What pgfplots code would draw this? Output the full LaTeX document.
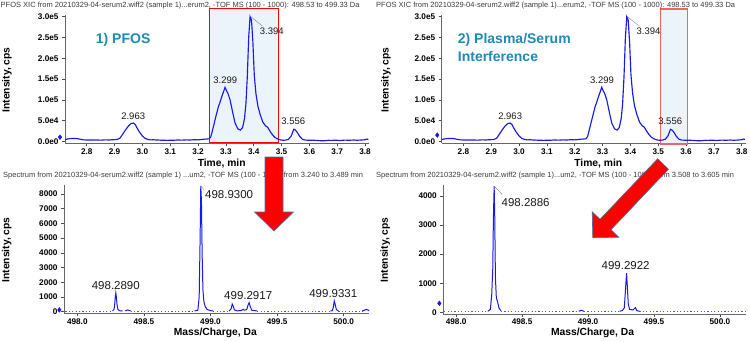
\documentclass[border=0pt]{standalone}
\usepackage{pgfplots}
\pgfplotsset{compat=1.18}
\usepackage{fontspec}
\setmainfont{Liberation Sans}
\definecolor{trace}{RGB}{25,25,235}
\definecolor{pfosblue}{RGB}{31,139,178}
\definecolor{boxfill}{RGB}{236,244,251}
\definecolor{arrowline}{RGB}{65,113,156}
\definecolor{titlegray}{RGB}{60,60,60}
\definecolor{boxredB}{RGB}{240,100,100}

\pgfplotstableread{
t v
2.722 4000
2.730 5500
2.740 6500
2.750 7000
2.760 6800
2.770 6000
2.780 4500
2.790 3500
2.800 3200
2.810 3000
2.820 3400
2.830 3000
2.840 3200
2.850 2800
2.860 3300
2.870 3500
2.880 3200
2.890 3800
2.900 4000
2.910 4500
2.920 8000
2.930 18000
2.940 28000
2.950 37000
2.960 43000
2.968 44000
2.975 40000
2.980 33000
2.990 22000
3.000 13000
3.010 7000
3.020 4500
3.030 3500
3.040 3800
3.050 3200
3.060 3000
3.070 2500
3.080 2600
3.090 2200
3.100 2800
3.110 2400
3.120 3000
3.130 3300
3.140 2800
3.150 3200
3.160 3500
3.170 3000
3.180 3600
3.190 4000
3.200 3500
3.210 4200
3.220 5000
3.230 5500
3.240 6000
3.246 11000
3.255 35000
3.265 62000
3.273 83000
3.278 92000
3.285 107000
3.292 120000
3.297 130000
3.302 122000
3.307 116000
3.315 100000
3.325 68000
3.333 44000
3.343 30000
3.352 27000
3.360 33000
3.367 55000
3.372 90000
3.377 155000
3.382 250000
3.387 300000
3.392 292000
3.397 240000
3.402 160000
3.408 115000
3.415 85000
3.423 65000
3.433 46000
3.443 37000
3.450 34000
3.458 25000
3.466 17000
3.475 10000
3.485 6000
3.495 3500
3.505 2500
3.515 3000
3.525 5000
3.535 13000
3.544 29000
3.550 27000
3.557 21000
3.565 12000
3.575 5000
3.585 3000
3.600 2500
3.610 2800
3.620 2400
3.630 2000
3.640 1500
3.650 1200
3.660 1800
3.670 2500
3.680 2200
3.690 2800
3.700 2500
3.710 2000
3.720 2600
3.730 3000
3.740 2400
3.750 2800
3.760 3200
3.770 2600
3.780 2900
3.790 3300
3.800 3800
3.806 5500
3.812 4500
}\xic

% spectrum 1: peak segments (nan = gap) and dotted baseline
\pgfplotstableread{
mz v
498.265 50
498.275 150
498.280 400
498.285 1000
498.289 1280
498.293 1000
498.298 500
498.305 150
498.320 60
498.340 50
nan nan
498.360 50
498.375 120
498.385 100
498.400 50
nan nan
498.880 50
498.905 100
498.915 1000
498.922 5000
498.927 8550
498.932 7500
498.937 4000
498.943 1500
498.950 700
498.960 350
498.975 150
499.000 70
499.020 50
nan nan
499.140 50
499.155 200
499.163 520
499.170 380
499.180 120
499.200 60
499.230 70
499.245 160
499.255 100
499.272 150
499.282 450
499.290 620
499.298 350
499.310 100
499.350 50
nan nan
499.900 50
499.915 70
499.922 300
499.929 740
499.936 500
499.945 150
499.960 50
nan nan
500.140 50
500.150 80
500.170 160
500.185 100
500.190 60
}\specA
\pgfplotstableread{
mz v
497.91 50
498.265 50
nan nan
498.40 50
498.88 50
nan nan
499.02 50
499.14 50
nan nan
499.35 50
499.90 50
nan nan
499.96 50
500.14 50
}\baseA

\pgfplotstableread{
mz v
498.240 35
498.260 100
498.270 600
498.278 1500
498.283 3300
498.2886 4340
498.293 3300
498.298 1200
498.305 500
498.315 350
498.325 150
498.340 50
nan nan
498.930 35
498.950 70
498.970 35
nan nan
499.240 35
499.260 60
499.275 150
499.283 700
499.2922 1350
499.298 900
499.305 300
499.315 100
499.340 80
499.360 160
499.370 60
499.390 35
}\specB
\pgfplotstableread{
mz v
497.91 35
498.24 35
nan nan
498.34 35
498.93 35
nan nan
498.97 35
499.24 35
nan nan
499.39 35
500.20 35
}\baseB

\tikzset{
  pk/.style={font=\fontsize{9.5}{11}\selectfont, text=black!90, inner sep=0pt},
  pkb/.style={font=\fontsize{11.5}{13}\selectfont, text=black!90, inner sep=0pt},
}
\pgfplotsset{
  msplot/.style={
    scale only axis, anchor=south west,
    axis x line*=bottom, axis y line*=left,
    tick align=outside, major tick length=3pt,
    tick style={black!70, line width=0.5pt},
    axis line style={black!60, line width=0.6pt},
    ticklabel style={font=\bfseries\fontsize{8.2}{9.8}\selectfont},
    xticklabel style={yshift=1.5pt},
    /pgf/number format/assume math mode=true,
    scaled y ticks=false, scaled x ticks=false,
    unbounded coords=jump,
    clip=false,
  },
  xicplot/.style={
    msplot, width=304.2pt, height=128.4pt,
    xmin=2.722, xmax=3.815, ymin=-5000, ymax=304000,
    xtick={2.8,2.9,3.0,3.1,3.2,3.3,3.4,3.5,3.6,3.7,3.8},
    xticklabels={2.8,2.9,3.0,3.1,3.2,3.3,3.4,3.5,3.6,3.7,3.8},
    ytick={0,50000,100000,150000,200000,250000,300000},
    yticklabels={0.0e0,5.0e4,1.0e5,1.5e5,2.0e5,2.5e5,3.0e5},
  },
  basestyle/.style={trace!75, line width=0.6pt, dash pattern=on 1.2pt off 2.2pt},
}

\begin{document}
\begin{tikzpicture}
\path[use as bounding box] (0pt,0pt) rectangle (750pt,-341pt);

% ---------- top left: XIC, PFOS window
\begin{axis}[xicplot, at={(65pt,-143.4pt)}]
\fill[boxfill] (axis cs:3.24,-2000) rectangle (axis cs:3.489,320000);
\draw[red, line width=0.8pt] (axis cs:3.24,-2000) rectangle (axis cs:3.489,320000);
\addplot[trace, line width=1.15pt] table[x=t, y=v] {\xic};
\addplot[only marks, mark=diamond*, mark size=2.4pt, trace] coordinates {(2.704,10000)};
\draw[black!50, line width=0.4pt] (axis cs:3.389,300000) -- (axis cs:3.432,277000);
\node[pk] at (axis cs:2.967,59200) {2.963};
\node[pk] at (axis cs:3.298,147500) {3.299};
\node[pk] at (axis cs:3.465,263800) {3.394};
\node[pk] at (axis cs:3.542,47200) {3.556};
\end{axis}

% ---------- top right: XIC, interference window
\begin{axis}[xicplot, at={(441.7pt,-143.4pt)}]
\fill[boxfill] (axis cs:3.508,-6500) rectangle (axis cs:3.605,318400);
\draw[boxredB, line width=1.3pt] (axis cs:3.508,-6500) rectangle (axis cs:3.605,318400);
\addplot[trace, line width=1.15pt] table[x=t, y=v] {\xic};
\addplot[only marks, mark=diamond*, mark size=2.4pt, trace] coordinates {(2.706,15000)};
\draw[black!50, line width=0.4pt] (axis cs:3.389,300000) -- (axis cs:3.432,277000);
\node[pk] at (axis cs:2.968,59200) {2.963};
\node[pk] at (axis cs:3.298,147500) {3.299};
\node[pk] at (axis cs:3.465,263800) {3.394};
\node[pk] at (axis cs:3.543,47200) {3.556};
\end{axis}

% ---------- bottom left: spectrum 3.240-3.489 min
\begin{axis}[msplot, at={(64pt,-313.3pt)}, width=305pt, height=128.3pt,
  xmin=497.9, xmax=500.19, ymin=-110, ymax=8612,
  xtick={498,498.5,499,499.5,500},
  xticklabels={498.0,498.5,499.0,499.5,500.0},
  ytick={0,1000,2000,3000,4000,5000,6000,7000,8000},
  yticklabels={0,1000,2000,3000,4000,5000,6000,7000,8000}]
\addplot[basestyle] table[x=mz, y=v] {\baseA};
\addplot[trace, line width=1pt] table[x=mz, y=v] {\specA};
\addplot[only marks, mark=diamond*, mark size=2.4pt, trace] coordinates {(497.865,120)};
\draw[black!50, line width=0.4pt] (axis cs:498.927,8550) -- (axis cs:498.95,8300);
\node[pkb] at (axis cs:498.289,1768) {498.2890};
\node[pkb] at (axis cs:499.14,7933) {498.9300};
\node[pkb] at (axis cs:499.283,1067) {499.2917};
\node[pkb] at (axis cs:499.922,1251) {499.9331};
\end{axis}

% ---------- bottom right: spectrum 3.508-3.605 min
\begin{axis}[msplot, at={(443.3pt,-313.9pt)}, width=303pt, height=128.9pt,
  xmin=497.903, xmax=500.2, ymin=-55, ymax=4378,
  xtick={498,498.5,499,499.5,500},
  xticklabels={498.0,498.5,499.0,499.5,500.0},
  ytick={0,1000,2000,3000,4000},
  yticklabels={0,1000,2000,3000,4000}]
\addplot[basestyle] table[x=mz, y=v] {\baseB};
\addplot[trace, line width=1pt] table[x=mz, y=v] {\specB};
\addplot[only marks, mark=diamond*, mark size=2.4pt, trace] coordinates {(497.873,310)};
\draw[black!50, line width=0.4pt] (axis cs:498.2886,4340) -- (axis cs:498.35,4050);
\node[pkb] at (axis cs:498.527,3783) {498.2886};
\node[pkb] at (axis cs:499.285,1603) {499.2922};
\end{axis}

% ---------- texts and arrows, in pixel coordinates (y downwards)
\begin{scope}[x=1pt, y=-1pt]
\tikzset{ttl/.style={anchor=base west, inner sep=0pt, text=titlegray, font=\fontsize{7.5}{9}\selectfont},
         axl/.style={inner sep=0pt, font=\bfseries\fontsize{10.3}{12}\selectfont}}
\node[ttl] at (0.5,7.8) {PFOS XIC from 20210329-04-serum2.wiff2 (sample 1)...erum2, -TOF MS (100 - 1000): 498.53 to 499.33 Da};
\node[ttl] at (376,7.8) {PFOS XIC from 20210329-04-serum2.wiff2 (sample 1)...erum2, -TOF MS (100 - 1000): 498.53 to 499.33 Da};
\node[ttl] at (3,177.3) {Spectrum from 20210329-04-serum2.wiff2 (sample 1) ...um2, -TOF MS (100 - 1000) from 3.240 to 3.489 min};
\node[ttl] at (376,177.3) {Spectrum from 20210329-04-serum2.wiff2 (sample 1)...um2, -TOF MS (100 - 1000) from 3.508 to 3.605 min};

\node[axl, rotate=90] at (7,80) {Intensity, cps};
\node[axl, rotate=90] at (386,80) {Intensity, cps};
\node[axl, rotate=90] at (6.7,250) {Intensity, cps};
\node[axl, rotate=90] at (385.3,250) {Intensity, cps};
\node[axl] at (221.7,163.3) {Time, min};
\node[axl] at (598.3,163.3) {Time, min};
\node[axl] at (215.3,333.3) {Mass/Charge, Da};
\node[axl] at (592.5,333.3) {Mass/Charge, Da};

\node[anchor=base west, inner sep=0pt, text=pfosblue, font=\bfseries\fontsize{14}{17}\selectfont] at (95.7,43.3) {1) PFOS};
\node[anchor=base west, inner sep=0pt, text=pfosblue, font=\bfseries\fontsize{14}{17}\selectfont] at (457.7,43.3) {2) Plasma/Serum};
\node[anchor=base west, inner sep=0pt, text=pfosblue, font=\bfseries\fontsize{14}{17}\selectfont] at (457.7,61) {Interference};

\filldraw[fill=red, draw=arrowline, line width=0.6pt]
  (265,157) -- (283,157) -- (283,212) -- (293.5,212) -- (274,231) -- (254.5,212) -- (265,212) -- cycle;
\filldraw[fill=red, draw=arrowline, line width=0.6pt]
  (657.6,158.8) -- (668.4,169.2) -- (611,229.7) -- (618.8,237.2) -- (592.8,237.8) -- (592.2,211.8) -- (600,219.3) -- cycle;
\end{scope}
\end{tikzpicture}
\end{document}
